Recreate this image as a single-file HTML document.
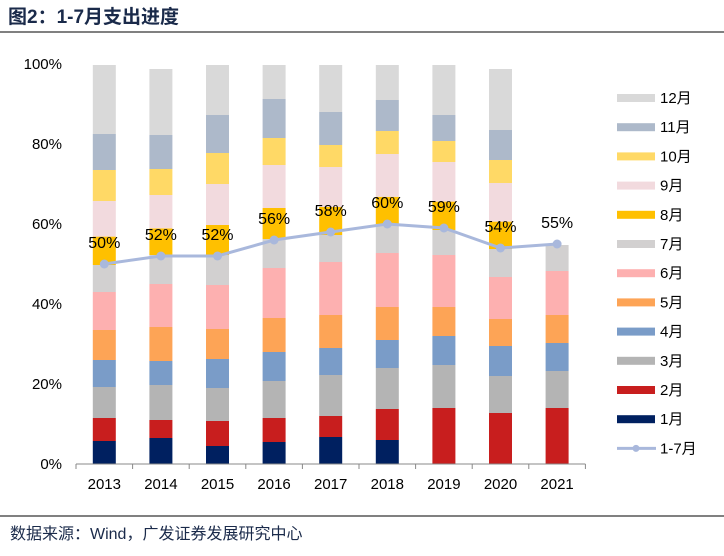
<!DOCTYPE html>
<html><head><meta charset="utf-8"><style>
body{margin:0;background:#fff;font-family:"Liberation Sans","Noto Sans CJK SC",sans-serif}
</style></head><body>
<svg id="c" width="724" height="551" xmlns="http://www.w3.org/2000/svg">
<text x="8" y="23" font-size="19" font-weight="bold" fill="#1a2a4a" font-family="Liberation Sans,Noto Sans CJK SC,sans-serif">图2：1-7月支出进度</text>
<line x1="0" y1="32" x2="724" y2="32" stroke="#000" stroke-width="1"/>
<line x1="0" y1="516" x2="724" y2="516" stroke="#000" stroke-width="1"/>
<text x="10" y="539" font-size="16" fill="#1a2a4a" font-family="Liberation Sans,Noto Sans CJK SC,sans-serif">数据来源：Wind，广发证券发展研究中心</text>
<g id="plot"></g>
</svg>
<script>
const years=["2013","2014","2015","2016","2017","2018","2019","2020","2021"];
const months=["1月","2月","3月","4月","5月","6月","7月","8月","9月","10月","11月","12月"];
const colors=["#002060","#C81E1E","#B4B4B4","#7A9CC8","#FDA456","#FDB0B0","#D2D0D0","#FFC000","#F2DADE","#FFD966","#ADB9CA","#D9D9D9"];
const m1=[5.75,6.5,4.5,5.5,6.75,6,0,0,0];
const m2=[5.75,4.5,6.25,6,5.25,7.75,14,12.75,14];
const m3=[7.75,8.75,8.25,9.25,10.25,10.25,10.75,9.25,9.25];
const m4=[6.75,6,7.25,7.25,6.75,7,7.25,7.5,7];
const m5=[7.5,8.5,7.5,8.5,8.25,8.25,7.25,6.75,7];
const m6=[9.5,10.75,11,12.5,13.25,13.5,13,10.5,11];
const m7=[6.75,7.25,7.5,7.25,6.75,7.25,6.25,7,6.5];
const m8=[7.1,6.65,7.5,7.75,7,6.8,7.1,6.85,0];
const m9=[8.9,8.35,10.25,10.75,10,10.7,9.9,9.65,0];
const m10=[7.75,6.5,7.75,6.75,5.5,5.75,5.25,5.75,0];
const m11=[9,8.5,9.5,9.75,8.25,7.75,6.5,7.5,0];
const m12=[17.25,16.5,12.5,8.5,11.75,8.75,12.5,15.25,0];
const progress=[50,52,52,56,58,60,59,54,55];
const yTicks=[0,20,40,60,80,100];
const series=[m1,m2,m3,m4,m5,m6,m7,m8,m9,m10,m11,m12];
const NS="http://www.w3.org/2000/svg";
const g=document.getElementById("plot");
const x0=76,step=56.6,bw=23;
const xc=i=>x0+step*(i+0.5);
const y=v=>464-v*4;
function mk(t,a){const e=document.createElementNS(NS,t);for(const k in a)e.setAttribute(k,a[k]);g.appendChild(e);return e;}
yTicks.forEach(t=>{const e=mk("text",{x:62,y:y(t)+5,"text-anchor":"end","font-size":15,fill:"#000"});e.textContent=t+"%";

});
years.forEach((yr,i)=>{let acc=0;series.forEach((s,k)=>{const v=s[i];if(v>0){const r=mk("rect",{x:xc(i)-bw/2,y:y(acc+v),width:bw,height:v*4,fill:colors[k]});

}acc+=v;});
const t=mk("text",{x:xc(i),y:489,"text-anchor":"middle","font-size":15,fill:"#000"});t.textContent=yr;

});
const ax=mk("line",{x1:x0,y1:464,x2:x0+step*9,y2:464,stroke:"#888"});


for(let i=0;i<=9;i++){const tk=mk("line",{x1:x0+step*i,y1:464,x2:x0+step*i,y2:469,stroke:"#888"});

}
const pl=mk("polyline",{points:progress.map((v,i)=>xc(i)+","+y(v)).join(" "),fill:"none",stroke:"#A9B8DC","stroke-width":3});


progress.forEach((v,i)=>{const c=mk("circle",{cx:xc(i),cy:y(v),r:4.5,fill:"#A9B8DC"});


const t=mk("text",{x:xc(i),y:y(v)-16,"text-anchor":"middle","font-size":16,fill:"#000"});t.textContent=v+"%";

});
const legLabels=months.slice().reverse().concat(["1-7月"]);
legLabels.forEach((lab,j)=>{const ly=98+j*29.2;
if(j<12){const r=mk("rect",{x:617,y:ly-4,width:38,height:8,fill:colors[11-j]});

}
else{const l=mk("line",{x1:617,y1:ly,x2:656,y2:ly,stroke:"#A9B8DC","stroke-width":3});


const c=mk("circle",{cx:636,cy:ly,r:3.5,fill:"#A9B8DC"});

}
const t=mk("text",{x:660,y:ly+5,"font-size":15,fill:"#000"});t.textContent=lab;

});
</script>
</body></html>
